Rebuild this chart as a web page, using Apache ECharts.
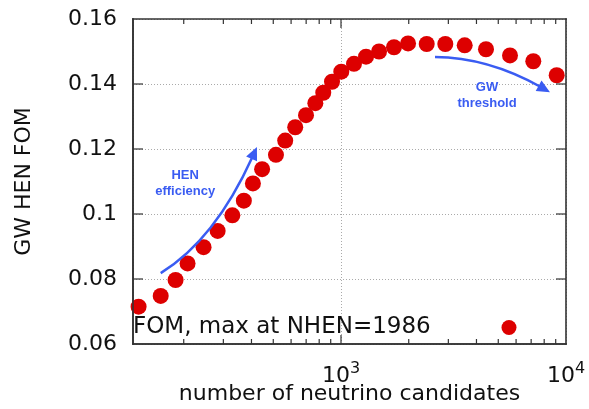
<!DOCTYPE html>
<html>
<head>
<meta charset="utf-8">
<script src="https://cdn.jsdelivr.net/npm/echarts@6/dist/echarts.min.js"></script>
<style>html,body{margin:0;padding:0;background:#fff}#chart{width:589px;height:409px}</style>
</head>
<body>
<div id="chart"></div>
<script>
// number of neutrino candidates (x) and figure of merit (y)
var nhen = [126, 158, 184, 208, 245, 283, 329, 370, 406, 446, 514, 565, 626, 699, 769, 834, 912, 1003, 1142, 1292, 1476, 1720, 1986, 2404, 2908, 3546, 4410, 5638, 7156, 9091];
var fom = [0.0715, 0.0748, 0.0797, 0.0848, 0.0898, 0.0948, 0.0996, 0.1041, 0.1094, 0.1138, 0.1182, 0.1226, 0.1267, 0.1304, 0.1341, 0.1373, 0.1407, 0.1438, 0.1462, 0.1484, 0.1500, 0.1513, 0.1525, 0.1523, 0.1523, 0.1519, 0.1507, 0.1488, 0.1470, 0.1427];
var xTicks = [200, 300, 400, 500, 600, 700, 800, 900, 1000, 2000, 3000, 4000, 5000, 6000, 7000, 8000, 9000];
var yTicks = [0.08, 0.10, 0.12, 0.14];
var seriesName = 'FOM, max at NHEN=1986';
// annotation arrows in data units: start x,y / control x,y / end x,y / label x,y
var arrows = [
    [158, 0.0818, 275, 0.0920, 423, 0.1206, 203, 0.1095],
    [2617, 0.1483, 4478, 0.1482, 8489, 0.1375, 4457, 0.1366]
];
var arrowLabels = ['HEN\nefficiency', 'GW\nthreshold'];

var font = 'DejaVu Sans';
var blue = '#3a5cf2';
var ink = '#333';
var chart = echarts.init(document.getElementById('chart'));

var points = [];
for (var i = 0; i < nhen.length; i++) points.push([nhen[i], fom[i]]);

function isDecade(v) {
    var e = Math.round(Math.log(v) / Math.LN10);
    return Math.abs(Math.pow(10, e) - v) < 1e-6 * v;
}
function xLabel(v) {
    if (!isDecade(v)) return '';
    return '{b|10}{s|' + Math.round(Math.log(v) / Math.LN10) + '}';
}
function pad(n) { var s = ''; while (n--) s += '\u00a0'; return s; }
function bar(x, y, w, h) { return { type: 'rect', shape: { x: x, y: y, width: w, height: h }, style: { fill: ink } }; }

var option = {
    backgroundColor: '#fff',
    animation: false,
    grid: { left: 133, right: 23, top: 19, bottom: 65, outerBoundsMode: 'none' },
    legend: {
        data: [seriesName],
        left: 128,
        top: 311,
        align: 'right',
        icon: 'circle',
        itemWidth: 15,
        itemHeight: 15,
        formatter: function (name) { return name + pad(9); },
        textStyle: { fontFamily: font, fontSize: 23, color: '#111' }
    },
    xAxis: {
        type: 'log', min: 119, max: 10000, logBase: 10,
        name: 'number of neutrino candidates', nameLocation: 'middle', nameGap: 39, nameMoveOverlap: false,
        nameTextStyle: { fontFamily: font, fontSize: 22, color: '#111' },
        axisLine: { show: true, onZero: false, lineStyle: { color: ink, width: 1.6 } },
        axisTick: { show: false },
        axisLabel: {
            formatter: xLabel, margin: 17,
            rich: {
                b: { fontFamily: font, fontSize: 22, color: '#111' },
                s: { fontFamily: font, fontSize: 16, color: '#111', verticalAlign: 'top', padding: [0, 0, 14, 0] }
            }
        },
        splitLine: { show: true, lineStyle: { color: '#aaa', type: [1, 2], width: 1 } }
    },
    yAxis: {
        type: 'value', min: 0.06, max: 0.16, interval: 0.02,
        name: 'GW HEN FOM', nameLocation: 'middle', nameGap: 98, nameRotate: 90,
        nameTextStyle: { fontFamily: font, fontSize: 22, color: '#111' },
        axisLine: { show: true, onZero: false, lineStyle: { color: ink, width: 1.6 } },
        axisTick: { show: false },
        axisLabel: { fontFamily: font, fontSize: 22, color: '#111', margin: 16 },
        splitLine: { show: true, lineStyle: { color: '#aaa', type: [1, 2], width: 1 } }
    },
    series: [
        {
            name: seriesName,
            type: 'scatter',
            data: points,
            symbol: 'circle',
            symbolSize: 16,
            clip: false,
            itemStyle: { color: '#dd0000', opacity: 1 },
            z: 5
        },
        {
            // blue annotation arrows
            type: 'custom',
            silent: true,
            clip: false,
            data: arrows,
            renderItem: function (params, api) {
                var s = api.coord([api.value(0), api.value(1)]);
                var c = api.coord([api.value(2), api.value(3)]);
                var e = api.coord([api.value(4), api.value(5)]);
                var q = api.coord([api.value(6), api.value(7)]);
                var dx = e[0] - c[0], dy = e[1] - c[1];
                var l = Math.sqrt(dx * dx + dy * dy);
                var ux = dx / l, uy = dy / l, nx = -uy, ny = ux;
                var bx = e[0] - ux * 13, by = e[1] - uy * 13;
                return {
                    type: 'group',
                    children: [
                        {
                            type: 'bezierCurve',
                            shape: { x1: s[0], y1: s[1], cpx1: c[0], cpy1: c[1], x2: bx + ux * 2, y2: by + uy * 2 },
                            style: { stroke: blue, lineWidth: 2.5, fill: null }
                        },
                        {
                            type: 'polygon',
                            shape: { points: [[e[0], e[1]], [bx + nx * 6, by + ny * 6], [bx - nx * 6, by - ny * 6]] },
                            style: { fill: blue }
                        },
                        {
                            type: 'text', x: q[0], y: q[1],
                            style: { text: arrowLabels[params.dataIndex], fill: blue, font: 'bold 13px "Liberation Sans"', align: 'center', verticalAlign: 'middle', lineHeight: 16 }
                        }
                    ]
                };
            },
            z: 6
        },
        {
            // plot frame, drawn on top so nothing hides it
            type: 'custom',
            silent: true,
            clip: false,
            data: [[1000, 0.1]],
            renderItem: function (params, api) {
                var cs = params.coordSys;
                var w = 1.6;
                return {
                    type: 'group',
                    children: [
                        bar(cs.x - w / 2, cs.y - w / 2, cs.width + w, w),
                        bar(cs.x - w / 2, cs.y + cs.height - w / 2, cs.width + w, w),
                        bar(cs.x - w / 2, cs.y - w / 2, w, cs.height + w),
                        bar(cs.x + cs.width - w / 2, cs.y - w / 2, w, cs.height + w)
                    ]
                };
            },
            z: 10
        },
        {
            // x ticks (major at decades, minor otherwise) on bottom and top edges
            type: 'custom',
            silent: true,
            clip: false,
            data: xTicks.map(function (v) { return [v, 0.1]; }),
            renderItem: function (params, api) {
                var cs = params.coordSys;
                var x = api.coord([api.value(0), 0.1])[0];
                var len = isDecade(api.value(0)) ? 9 : 5;
                return {
                    type: 'group',
                    children: [bar(x - 0.6, cs.y + cs.height - len, 1.2, len), bar(x - 0.6, cs.y, 1.2, len)]
                };
            },
            z: 10
        },
        {
            // y ticks on left and right edges
            type: 'custom',
            silent: true,
            clip: false,
            data: yTicks.map(function (v) { return [1000, v]; }),
            renderItem: function (params, api) {
                var cs = params.coordSys;
                var y = api.coord([1000, api.value(1)])[1];
                return {
                    type: 'group',
                    children: [bar(cs.x, y - 0.6, 10, 1.2), bar(cs.x + cs.width - 10, y - 0.6, 10, 1.2)]
                };
            },
            z: 10
        }
    ]
};
chart.setOption(option);
</script>
</body>
</html>
